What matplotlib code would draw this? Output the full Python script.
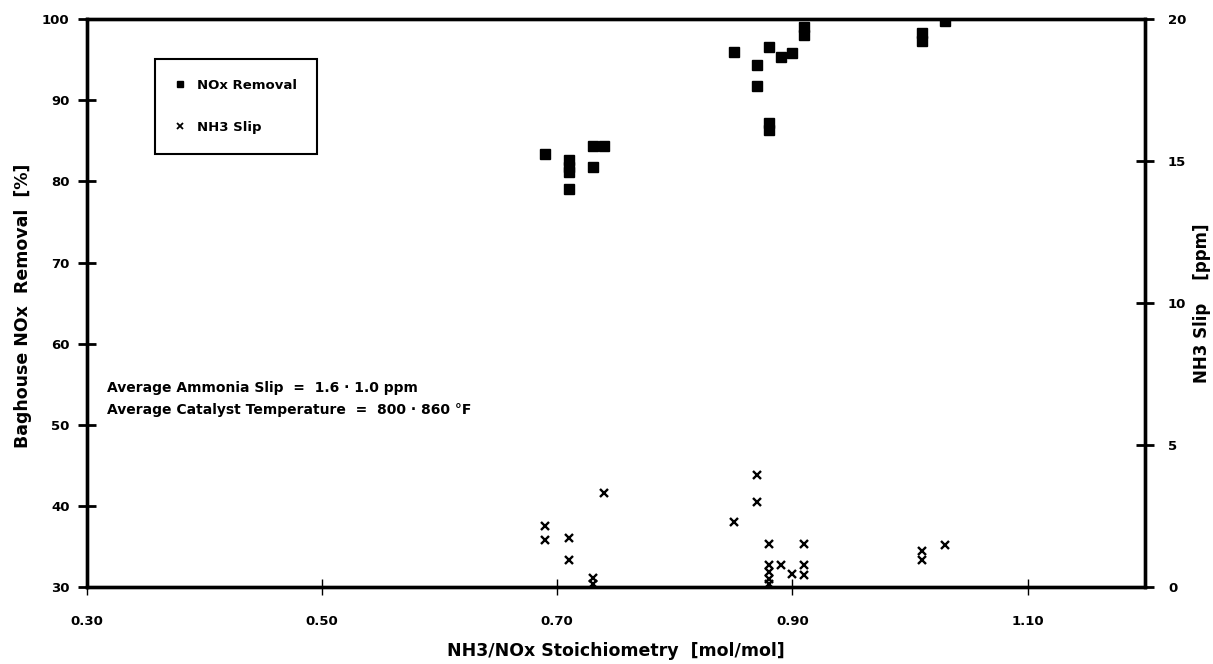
import matplotlib.pyplot as plt
from matplotlib.lines import Line2D

plt.rcParams['font.family'] = ['DejaVu Sans']
plt.rcParams['font.weight'] = 'bold'

# NOx removal (left axis, %)
nox_x = [0.69, 0.71, 0.71, 0.71, 0.71, 0.73, 0.74, 0.73, 0.85, 0.87, 0.87,
         0.88, 0.89, 0.90, 0.91, 0.91, 0.88, 0.88, 1.01, 1.01, 1.03]
nox_y = [83.4, 82.7, 81.8, 81.2, 79.1, 84.4, 84.4, 81.8, 96.0, 94.4, 91.8,
         96.6, 95.4, 95.9, 98.0, 99.0, 87.2, 86.4, 98.3, 97.3, 99.8]

# NH3 slip (right axis, ppm)
slip_x = [0.69, 0.69, 0.71, 0.71, 0.73, 0.73, 0.74, 0.85, 0.87, 0.87, 0.88,
          0.88, 0.88, 0.88, 0.88, 0.89, 0.90, 0.91, 0.91, 0.91, 1.01, 1.01, 1.03]
slip_y = [2.16, 1.64, 1.73, 0.94, 0.32, 0.12, 3.30, 2.30, 3.95, 3.00, 1.52,
          0.76, 0.53, 0.29, 0.12, 0.76, 0.45, 1.52, 0.76, 0.41, 1.26, 0.94, 1.48]

x_ticks = [0.30, 0.50, 0.70, 0.90, 1.10]
left_ticks = [30, 40, 50, 60, 70, 80, 90, 100]
right_ticks = [0, 5, 10, 15, 20]

fig = plt.figure(figsize=(12.13, 6.64), dpi=100)
ax = fig.add_axes([0.0717, 0.116, 0.8723, 0.855])
ax2 = ax.twinx()

ax.plot(nox_x, nox_y, 's', color='black', markersize=6.8, linestyle='none')
ax2.plot(slip_x, slip_y, 'x', color='black', markersize=6, mew=1.7, linestyle='none')

ax.set_xlim(0.30, 1.20)
ax.set_ylim(30, 100)
ax2.set_ylim(0, 20)

ax.set_xticks(x_ticks)
ax.set_xticklabels(['%.2f' % t for t in x_ticks])
ax.set_yticks(left_ticks)
ax2.set_yticks(right_ticks)

for a in (ax, ax2):
    for s in a.spines.values():
        s.set_linewidth(2.4)
ax.tick_params(axis='x', direction='inout', length=12, width=1, pad=14, labelsize=9.5)
ax.tick_params(axis='y', direction='inout', length=13, width=2, pad=6, labelsize=9.5)
ax2.tick_params(axis='y', direction='inout', length=13, width=2, pad=10, labelsize=9.5)

ax.set_xlabel('NH3/NOx Stoichiometry  [mol/mol]', fontsize=12.5, fontweight='bold', labelpad=10)
ax.set_ylabel('Baghouse NOx  Removal  [%]', fontsize=12.5, fontweight='bold')
ax.yaxis.set_label_coords(-0.052, 0.495)
ax2.set_ylabel('NH3 Slip    [ppm]', fontsize=12, fontweight='bold', rotation=90)
ax2.yaxis.set_label_coords(1.045, 0.5)

ax.text(0.019, 0.350, 'Average Ammonia Slip  =  1.6 · 1.0 ppm',
        transform=ax.transAxes, fontsize=10, fontweight='bold', va='center', ha='left')
ax.text(0.019, 0.311, 'Average Catalyst Temperature  =  800 · 860 °F',
        transform=ax.transAxes, fontsize=10, fontweight='bold', va='center', ha='left')

handles = [Line2D([], [], marker='s', color='black', linestyle='none', markersize=5),
           Line2D([], [], marker='x', color='black', linestyle='none', markersize=5, mew=1.3)]
leg = ax.legend(handles, ['NOx Removal', 'NH3 Slip'], loc='upper left',
                bbox_to_anchor=(0.064, 0.93), borderaxespad=0, fancybox=False, framealpha=1,
                edgecolor='black', prop={'weight': 'bold', 'size': 9.5},
                borderpad=1.5, labelspacing=2.2, handlelength=0.8, handletextpad=0.9)
leg.get_frame().set_linewidth(1.5)

fig.savefig('out.png', dpi=100)
